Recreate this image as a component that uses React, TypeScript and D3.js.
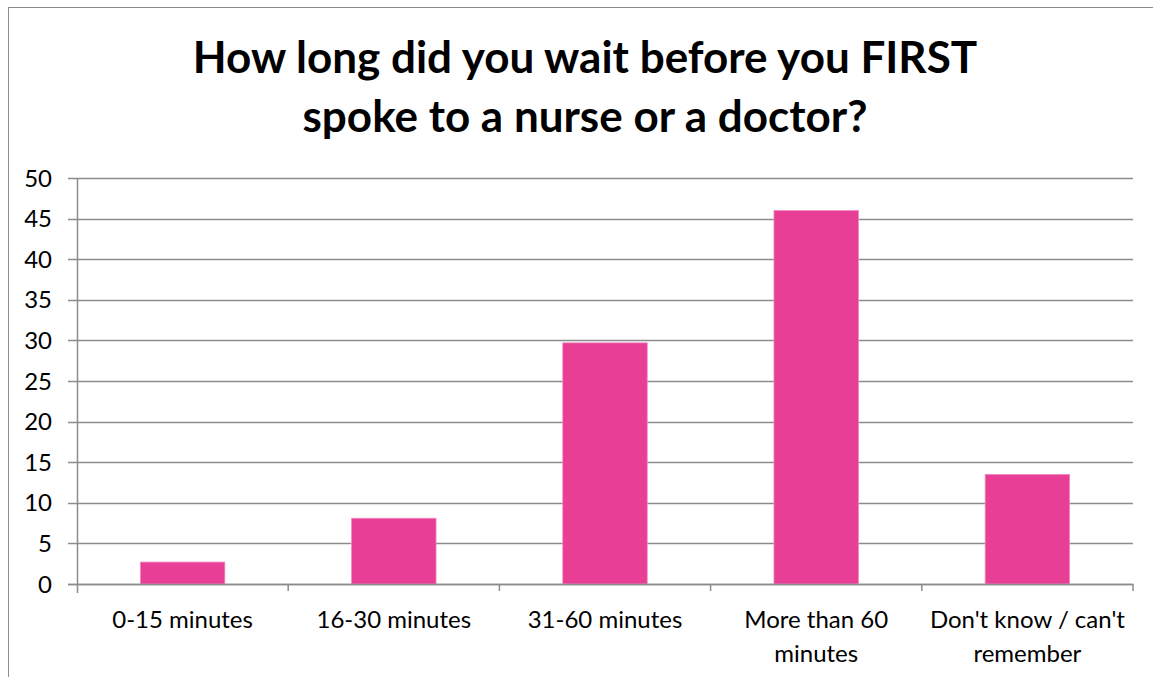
import React, { useEffect, useRef } from "react";
import * as d3 from "d3";

const categories = [
  ["0-15 minutes"],
  ["16-30 minutes"],
  ["31-60 minutes"],
  ["More than 60", "minutes"],
  ["Don't know / can't", "remember"],
];
const values = [2.7, 8.1, 29.7, 46.0, 13.5];
const yTicks = [0, 5, 10, 15, 20, 25, 30, 35, 40, 45, 50];
const titleLines = ["How long did you wait before you FIRST", "spoke to a nurse or a doctor?"];

const W = 1153;
const H = 677;
const FONT = "Lato, 'Open Sans', sans-serif";

const App = () => {
  const svgRef = useRef<SVGSVGElement>(null);

  useEffect(() => {
    const svg = d3.select(svgRef.current);
    svg.selectAll("*").remove();

    const left = 77, right = 1133, top = 178, bottom = 584;

    // outer chart border
    svg.append("rect")
      .attr("x", 8.5).attr("y", 7.5)
      .attr("width", 1200).attr("height", 700)
      .attr("fill", "white").attr("stroke", "#8c8c8c").attr("stroke-width", 1);

    svg.append("g")
      .selectAll("text")
      .data(titleLines)
      .join("text")
      .attr("x", 585)
      .attr("y", (d, i) => 73 + i * 59)
      .attr("text-anchor", "middle")
      .style("font-family", FONT)
      .style("font-weight", "bold")
      .style("font-size", "44px")
      .text((d) => d);

    const x = d3.scaleBand<number>()
      .domain(values.map((v, i) => i))
      .range([left, right])
      .paddingInner(0.6)
      .paddingOuter(0.3);
    const xOuter = d3.scaleBand<number>()
      .domain(values.map((v, i) => i))
      .range([left, right]);
    const y = d3.scaleLinear().domain([0, 50]).range([bottom, top]);

    // gridlines
    svg.append("g")
      .selectAll("line")
      .data(yTicks)
      .join("line")
      .attr("x1", left - 9).attr("x2", right)
      .attr("y1", (d) => Math.round(y(d)) + 0.5)
      .attr("y2", (d) => Math.round(y(d)) + 0.5)
      .attr("stroke", "#8c8c8c").attr("stroke-width", 1.5);

    svg.append("g")
      .selectAll("text")
      .data(yTicks)
      .join("text")
      .attr("x", 52)
      .attr("y", (d) => y(d) + 8.5)
      .attr("text-anchor", "end")
      .style("font-family", FONT)
      .style("font-size", "24px")
      .text((d) => d);

    // bars
    svg.append("g")
      .selectAll("rect")
      .data(values)
      .join("rect")
      .attr("x", (d, i) => x(i)!)
      .attr("y", (d) => y(d))
      .attr("width", x.bandwidth())
      .attr("height", (d) => bottom - y(d))
      .attr("fill", "#e83e96")
      .attr("stroke", "#f08cc0")
      .attr("stroke-width", 0.8);

    // axes lines
    svg.append("line")
      .attr("x1", left + 0.5).attr("x2", left + 0.5)
      .attr("y1", top).attr("y2", bottom + 9)
      .attr("stroke", "#8c8c8c").attr("stroke-width", 1.5);
    svg.append("line")
      .attr("x1", left - 9).attr("x2", right)
      .attr("y1", bottom + 0.5).attr("y2", bottom + 0.5)
      .attr("stroke", "#8c8c8c").attr("stroke-width", 1.5);
    svg.append("g")
      .selectAll("line")
      .data(values.map((v, i) => i + 1))
      .join("line")
      .attr("x1", (d) => left + d * xOuter.step())
      .attr("x2", (d) => left + d * xOuter.step())
      .attr("y1", bottom).attr("y2", bottom + 7)
      .attr("stroke", "#8c8c8c").attr("stroke-width", 1.5);

    // category labels
    const lab = svg.append("g")
      .selectAll("text")
      .data(categories)
      .join("text")
      .attr("x", (d, i) => xOuter(i)! + xOuter.bandwidth() / 2)
      .attr("y", 628)
      .attr("text-anchor", "middle")
      .style("font-family", FONT)
      .style("font-size", "24px");
    lab.selectAll("tspan")
      .data((d) => d)
      .join("tspan")
      .attr("x", function () {
        return (this.parentNode as SVGTextElement).getAttribute("x");
      })
      .attr("dy", (d, i) => (i === 0 ? 0 : 34))
      .text((d) => d);
  }, []);

  return (
    <svg ref={svgRef} width={W} height={H} style={{ display: "block", position: "absolute", left: 0, top: 0 }} />
  );
};

export default App;
